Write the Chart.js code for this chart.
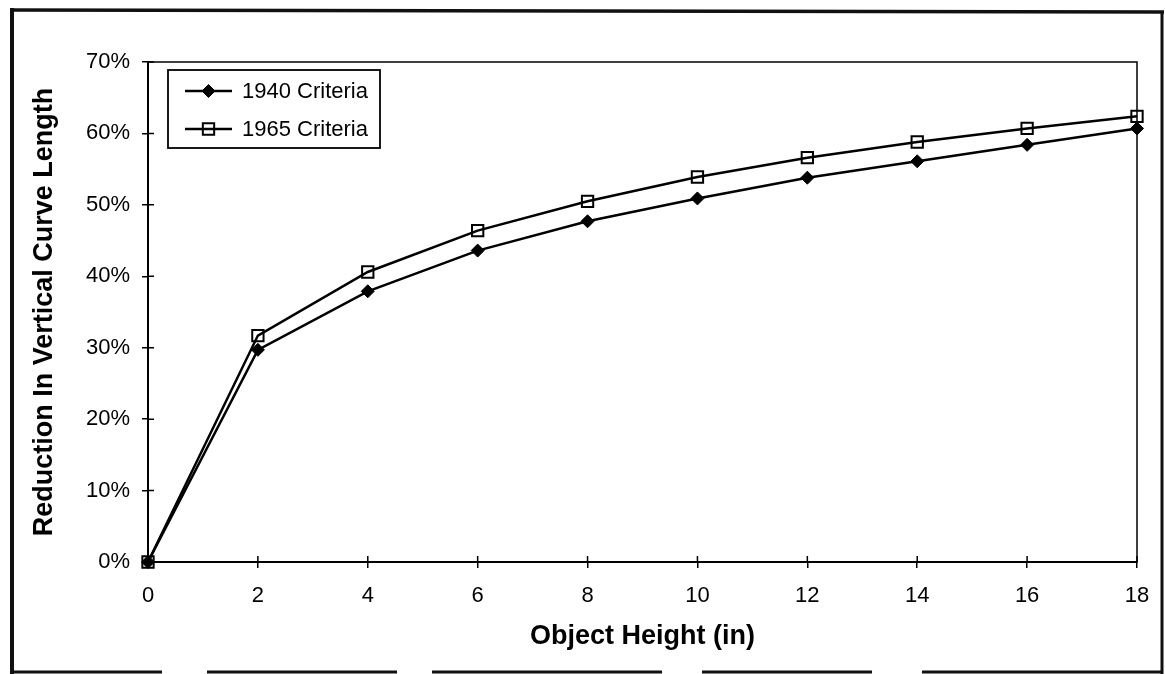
<!DOCTYPE html>
<html>
<head>
<meta charset="utf-8">
<script src="https://cdn.jsdelivr.net/npm/chart.js@4.4.0/dist/chart.umd.min.js"></script>
<style>
  html, body { margin: 0; padding: 0; background: #fff; }
  #wrap { position: relative; width: 1165px; height: 674px; }
  canvas { display: block; }
</style>
</head>
<body>
<div id="wrap"><canvas id="c" width="1165" height="674"></canvas></div>
<script>
// Object heights (inches) along the horizontal axis
const heights = [0, 2, 4, 6, 8, 10, 12, 14, 16, 18];
// Reduction in vertical curve length, percent
const criteria1940 = [0, 29.7, 37.9, 43.6, 47.7, 50.9, 53.8, 56.1, 58.4, 60.7];
const criteria1965 = [0, 31.7, 40.6, 46.4, 50.5, 53.9, 56.6, 58.8, 60.7, 62.4];
const seriesNames = ['1940 Criteria', '1965 Criteria'];
const xAxisTitle = 'Object Height (in)';
const yAxisTitle = 'Reduction In Vertical Curve Length';

const FONT = '"Liberation Sans", Arial, sans-serif';

const toPoints = (vals) => heights.map((h, i) => ({ x: h, y: vals[i] }));

// White page background and the scanned-looking outer frame
const framePlugin = {
  id: 'frame',
  beforeDraw(chart) {
    const ctx = chart.ctx;
    ctx.save();
    ctx.fillStyle = '#fff';
    ctx.fillRect(0, 0, chart.width, chart.height);
    ctx.restore();
  },
  afterDraw(chart) {
    const ctx = chart.ctx;
    ctx.save();
    ctx.strokeStyle = '#111';
    ctx.lineCap = 'butt';
    // left
    ctx.lineWidth = 4;
    ctx.beginPath(); ctx.moveTo(12, 8); ctx.lineTo(12, 674); ctx.stroke();
    // top
    ctx.lineWidth = 3.5;
    ctx.beginPath(); ctx.moveTo(10, 10); ctx.lineTo(1164, 12); ctx.stroke();
    // right
    ctx.lineWidth = 3;
    ctx.beginPath(); ctx.moveTo(1162, 12); ctx.lineTo(1162, 674); ctx.stroke();
    // bottom, broken like a worn copy
    ctx.lineWidth = 3;
    ctx.setLineDash([150, 45, 190, 35, 230, 40, 170, 50, 260]);
    ctx.beginPath(); ctx.moveTo(12, 672); ctx.lineTo(1162, 672); ctx.stroke();
    ctx.restore();
  }
};

// Plot-area box and tick marks that cross the axes
const axesPlugin = {
  id: 'crossTicks',
  beforeDatasetsDraw(chart) {
    const { ctx, chartArea: a, scales: { x, y } } = chart;
    ctx.save();
    ctx.strokeStyle = '#000';
    ctx.lineWidth = 1.5;
    ctx.strokeRect(a.left, a.top, a.right - a.left, a.bottom - a.top);
    ctx.beginPath();
    x.ticks.forEach((t, i) => {
      const px = x.getPixelForTick(i);
      ctx.moveTo(px, a.bottom); ctx.lineTo(px, a.bottom - 6);
    });
    y.ticks.forEach((t, i) => {
      const py = y.getPixelForTick(i);
      ctx.moveTo(a.left, py); ctx.lineTo(a.left + 6, py);
    });
    ctx.stroke();
    ctx.restore();
  }
};

// Boxed legend inside the upper-left of the plot
const legendPlugin = {
  id: 'boxLegend',
  afterDraw(chart) {
    const { ctx, chartArea: a } = chart;
    const box = { x: a.left + 20, y: a.top + 8, w: 212, h: 78 };
    ctx.save();
    ctx.fillStyle = '#fff';
    ctx.fillRect(box.x, box.y, box.w, box.h);
    ctx.strokeStyle = '#000';
    ctx.lineWidth = 1.8;
    ctx.strokeRect(box.x, box.y, box.w, box.h);
    chart.data.datasets.forEach((ds, i) => {
      const cy = box.y + 21 + i * 38;
      const x0 = box.x + 17, x1 = box.x + 64, mx = (x0 + x1) / 2;
      ctx.strokeStyle = ds.borderColor;
      ctx.lineWidth = ds.borderWidth;
      ctx.beginPath(); ctx.moveTo(x0, cy); ctx.lineTo(x1, cy); ctx.stroke();
      ctx.fillStyle = ds.pointBackgroundColor;
      ctx.strokeStyle = ds.pointBorderColor;
      ctx.lineWidth = ds.pointBorderWidth;
      Chart.helpers.drawPoint(ctx, { pointStyle: ds.pointStyle, radius: ds.pointRadius, rotation: 0, borderWidth: ds.pointBorderWidth }, mx, cy);
      ctx.fillStyle = '#000';
      ctx.font = '22px ' + FONT;
      ctx.textBaseline = 'middle';
      ctx.textAlign = 'left';
      ctx.fillText(ds.label, box.x + 74, cy + 1);
    });
    ctx.restore();
  }
};

new Chart(document.getElementById('c'), {
  type: 'line',
  data: {
    datasets: [
      {
        label: seriesNames[0],
        data: toPoints(criteria1940),
        borderColor: '#000',
        borderWidth: 2.5,
        pointStyle: 'rectRot',
        pointRadius: 6.5,
        pointBackgroundColor: '#000',
        pointBorderColor: '#000',
        pointBorderWidth: 1,
        tension: 0,
        clip: false
      },
      {
        label: seriesNames[1],
        data: toPoints(criteria1965),
        borderColor: '#000',
        borderWidth: 2.5,
        pointStyle: 'rect',
        pointRadius: 8,
        pointBackgroundColor: 'rgba(0,0,0,0)',
        pointBorderColor: '#000',
        pointBorderWidth: 2,
        tension: 0,
        clip: false
      }
    ]
  },
  options: {
    responsive: false,
    animation: false,
    devicePixelRatio: 1,
    layout: { padding: { top: 62, right: 28, left: 0, bottom: 0 } },
    plugins: { legend: { display: false }, tooltip: { enabled: false } },
    elements: { point: { hoverRadius: 0 } },
    scales: {
      x: {
        type: 'linear',
        min: 0,
        max: 18,
        afterFit: (s) => { s.height = 112; },
        ticks: { stepSize: 2, color: '#000', font: { family: FONT, size: 22 }, padding: 15, maxRotation: 0 },
        grid: { drawOnChartArea: false, drawTicks: true, tickLength: 6, color: '#000', lineWidth: 1.5 },
        border: { display: true, color: '#000', width: 2 },
        title: { display: true, text: xAxisTitle, color: '#000', font: { family: FONT, size: 27, weight: 'bold' }, padding: { top: 0, bottom: 21 } }
      },
      y: {
        min: 0,
        max: 70,
        afterFit: (s) => { s.width = 148; },
        ticks: { stepSize: 10, color: '#000', font: { family: FONT, size: 22 }, padding: 12, callback: (v) => v + '%' },
        grid: { drawOnChartArea: false, drawTicks: true, tickLength: 6, color: '#000', lineWidth: 1.5 },
        border: { display: true, color: '#000', width: 2 },
        title: { display: true, text: yAxisTitle, color: '#000', font: { family: FONT, size: 27, weight: 'bold' }, padding: { top: 28, bottom: 0 } }
      }
    }
  },
  plugins: [framePlugin, axesPlugin, legendPlugin]
});
</script>
</body>
</html>
